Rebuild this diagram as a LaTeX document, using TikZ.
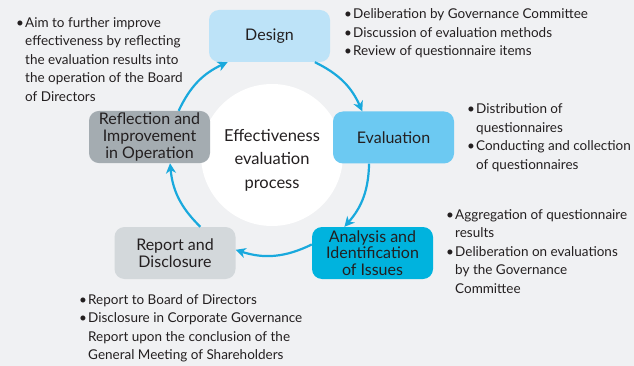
\documentclass[tikz,border=0pt]{standalone}
\usepackage{fontspec}
\setmainfont{Lato}
\usetikzlibrary{arrows.meta}
\usetikzlibrary{positioning}
\definecolor{bg}{HTML}{F0F1F3}
\definecolor{designblue}{HTML}{BDE3F8}
\definecolor{evalblue}{HTML}{6CC9F2}
\definecolor{issuecyan}{HTML}{00B3DE}
\definecolor{reportgray}{HTML}{D3D8DB}
\definecolor{reflectgray}{HTML}{A4ACB1}
\definecolor{flowblue}{HTML}{19A9DD}
\definecolor{ink}{HTML}{231F20}
\newcommand{\bl}{\makebox[9pt][l]{\textbullet}}

\begin{document}
\begin{tikzpicture}[x=1pt, y=-1pt, font=\fontsize{13.5}{18.5}\selectfont, text=ink,
    stage/.style={rounded corners=10pt, minimum width=121pt, minimum height=52pt,
                  align=center, inner sep=2pt, font=\fontsize{16}{16.8}\selectfont},
    notes/.style={anchor=base west, inner sep=0pt},
    flow/.style={draw=flowblue, line width=2.2pt,
                 -{Stealth[length=10pt, width=10pt, inset=3pt]}}]
    % Draw the background and the centre disc
    \fill[bg] (0,0) rectangle (634,366);
    \node[circle, fill=white, minimum size=142pt, inner sep=0pt] (core) at (272,155) {};
    \node[align=center, font=\fontsize{16.5}{23.5}\selectfont] (title) at (272,160)
        {Effectiveness\\evaluation\\process};
    % Draw the stages
    \node[stage, fill=designblue] (design) at (269.5,36) {Design};
    \node[stage, fill=evalblue] (eval) at (393.5,137.5) {Evaluation};
    \node[stage, fill=issuecyan] (issues) at (372.5,253) {Analysis and\\Identification\\of Issues};
    \node[stage, fill=reportgray] (report) at (175,253) {Report and\\Disclosure};
    \node[stage, fill=reflectgray] (reflect) at (149.5,137) {Reflection and\\Improvement\\in Operation};
    % Connect the stages round the cycle
    \foreach \from/\to/\bend in {reflect.42/design.212/20, design.330/eval.140/20,
                                 eval.227/issues.137/20, issues.172/report.3/22,
                                 report.46/reflect.308/20}{
        \draw[flow] (\from) to[bend left=\bend] (\to);
    }
    % Add the notes beside each stage
    \node[notes] (reflectnotes) at (16,27.5) {\begin{tabular}[t]{@{}l@{}l@{}}
        \bl & Aim to further improve\\
            & effectiveness by reflecting\\
            & the evaluation results into\\
            & the operation of the Board\\
            & of Directors
        \end{tabular}};
    \node[notes] (designnotes) at (344,19) {\begin{tabular}[t]{@{}l@{}l@{}}
        \bl & Deliberation by Governance Committee\\
        \bl & Discussion of evaluation methods\\
        \bl & Review of questionnaire items
        \end{tabular}};
    \node[notes] (evalnotes) at (467,114) {\begin{tabular}[t]{@{}l@{}l@{}}
        \bl & Distribution of\\
            & questionnaires\\
        \bl & Conducting and collection\\
            & of questionnaires
        \end{tabular}};
    \node[notes] (issuenotes) at (446,219) {\begin{tabular}[t]{@{}l@{}l@{}}
        \bl & Aggregation of questionnaire\\
            & results\\
        \bl & Deliberation on evaluations\\
            & by the Governance\\
            & Committee
        \end{tabular}};
    \node[notes] (reportnotes) at (79,304) {\begin{tabular}[t]{@{}l@{}l@{}}
        \bl & Report to Board of Directors\\
        \bl & Disclosure in Corporate Governance\\
            & Report upon the conclusion of the\\
            & General Meeting of Shareholders
        \end{tabular}};
\end{tikzpicture}
\end{document}
